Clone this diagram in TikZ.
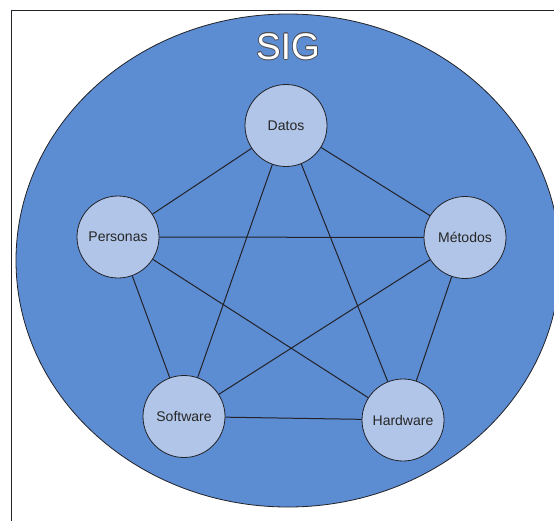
\documentclass[tikz,border=0pt]{standalone}
\usepackage{fontspec}
\setmainfont{Liberation Sans}
\usepackage{xcolor}
\usepackage[copies]{contour}
\contourlength{0.6pt}
\definecolor{sigblue}{RGB}{92, 140, 210}
\definecolor{elemblue}{RGB}{176, 197, 232}
\definecolor{darkline}{RGB}{34, 34, 40}
\usepackage{tikz}
\usetikzlibrary{shapes.geometric, positioning}

\begin{document}
\begin{tikzpicture}[x=1pt, y=-1pt,
        sistema/.style={ellipse, draw=darkline, fill=sigblue, line width=0.8pt, minimum width=544pt, minimum height=493pt, inner sep=0pt},
        elem/.style={circle, draw=darkline, fill=elemblue, line width=0.8pt, minimum size=82pt, inner sep=0pt, text=black!85, font=\fontsize{14}{16}\selectfont},
        titulo/.style={font=\fontsize{37}{40}\selectfont, inner sep=0pt},
        line/.style={draw=darkline, line width=1pt}]

        \clip (0,0) rectangle (554,520);
        \draw [darkline, line width=0.8pt] (11,10) rectangle (640,620);

        \node [sistema] (sig) at (288,260.5) {};
        \node [titulo] (titulo) at (288,47) {\contour{darkline!80}{\textcolor{white}{SIG}}};

        \node [elem] (datos) at (286,125.5) {Datos};
        \node [elem] (personas) at (118,237) {Personas};
        \node [elem] (metodos) at (465,237.5) {Métodos};
        \node [elem] (software) at (184,416.5) {Software};
        \node [elem] (hardware) at (403,420) {Hardware};

        \path [line] (datos) -- (personas);
        \path [line] (datos) -- (metodos);
        \path [line] (datos) -- (software);
        \path [line] (datos) -- (hardware);
        \path [line] (personas) -- (metodos);
        \path [line] (personas) -- (software);
        \path [line] (personas) -- (hardware);
        \path [line] (metodos) -- (software);
        \path [line] (metodos) -- (hardware);
        \path [line] (software) -- (hardware);
    \end{tikzpicture}
\end{document}
